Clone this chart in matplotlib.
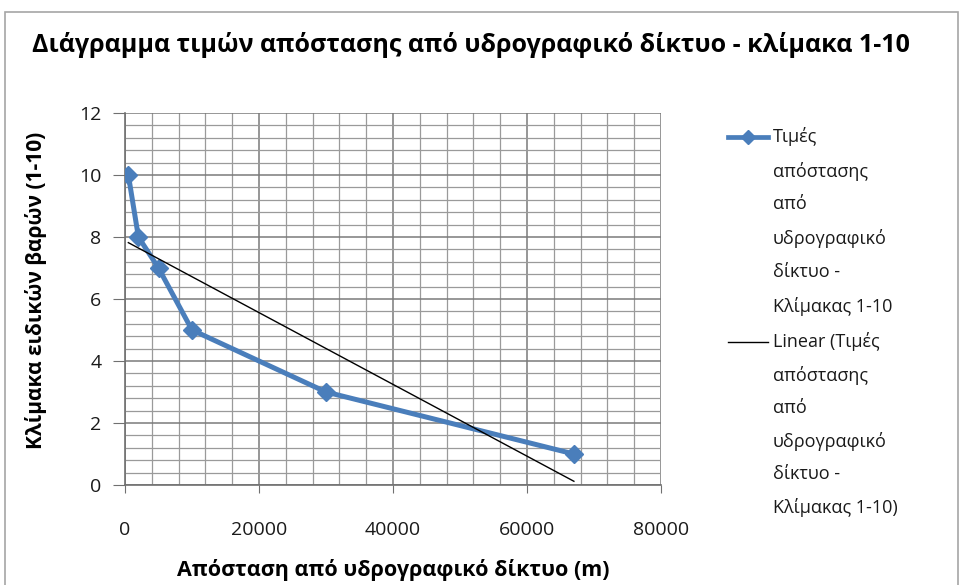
import numpy as np
import matplotlib
matplotlib.use("Agg")
import matplotlib.pyplot as plt
from matplotlib.lines import Line2D
from matplotlib.patches import Rectangle
from matplotlib.ticker import MultipleLocator

plt.rcParams['font.family'] = ['Open Sans', 'DejaVu Sans']

# Data
distance_m = [500, 2000, 5000, 10000, 30000, 67000]
scale_values = [10, 8, 7, 5, 3, 1]
x_ticks = [0, 20000, 40000, 60000, 80000]
y_ticks = [0, 2, 4, 6, 8, 10, 12]

title = "Διάγραμμα τιμών απόστασης από υδρογραφικό δίκτυο - κλίμακα 1-10"
x_label = "Απόσταση από υδρογραφικό δίκτυο (m)"
y_label = "Κλίμακα ειδικών βαρών (1-10)"
series_label = "Τιμές\nαπόστασης\nαπό\nυδρογραφικό\nδίκτυο -\nΚλίμακας 1-10"
trend_label = "Linear (Τιμές\nαπόστασης\nαπό\nυδρογραφικό\nδίκτυο -\nΚλίμακας 1-10)"

W, H = 961, 585
fig = plt.figure(figsize=(W / 100, H / 100), dpi=100)
fig.patch.set_facecolor('white')

# chart border
fig.add_artist(Rectangle((5 / W, -0.05), (958 - 5) / W, 1.05 - 12 / H,
                         transform=fig.transFigure, fill=False,
                         edgecolor='#a6a6a6', linewidth=1.2))

ax = fig.add_axes([125 / W, 1 - 485 / H, (661 - 125) / W, (485 - 113) / H])

blue = '#4a7ebb'
ax.plot(distance_m, scale_values, color=blue, linewidth=3.6, marker='D',
        markersize=9, markerfacecolor=blue, markeredgecolor=blue, zorder=4,
        solid_joinstyle='round')

# Linear trendline
xs = np.array(distance_m, dtype=float)
ys = np.array(scale_values, dtype=float)
slope, intercept = np.polyfit(xs, ys, 1)
tx = np.array([xs.min(), xs.max()])
ax.plot(tx, slope * tx + intercept, color='black', linewidth=1.0, zorder=5)

ax.set_xlim(0, 80000)
ax.set_ylim(0, 12)
ax.set_xticks(x_ticks)
ax.set_yticks(y_ticks)
ax.xaxis.set_minor_locator(MultipleLocator(4000))
ax.yaxis.set_minor_locator(MultipleLocator(0.4))
ax.grid(which='major', color='#7a7a7a', linewidth=1.1)
ax.grid(which='minor', color='#9a9a9a', linewidth=0.9)
ax.set_axisbelow(True)
for s in ['top', 'right']:
    ax.spines[s].set_visible(False)
for s in ['left', 'bottom']:
    ax.spines[s].set_color('#707070')
    ax.spines[s].set_linewidth(1.2)

ax.tick_params(axis='y', which='major', length=9, pad=8, color='#707070',
               labelsize=14, labelcolor='#1a1a1a')
ax.tick_params(axis='x', which='major', length=6, pad=20, color='#707070',
               labelsize=14, labelcolor='#1a1a1a')
ax.tick_params(which='minor', length=0)

fig.text(32 / W, 1 - 45 / H, title, ha='left', va='center',
         fontsize=18, fontweight='bold', color='black')
fig.text(393 / W, 1 - 570 / H, x_label, ha='center', va='center',
         fontsize=15.5, fontweight='bold', color='black')
fig.text(36 / W, 1 - 290 / H, y_label, ha='center', va='center',
         rotation=90, fontsize=15, fontweight='bold', color='black')

# Legend (manual, Excel-like)
fig.add_artist(Line2D([728 / W, 768 / W], [1 - 137 / H, 1 - 137 / H],
                      transform=fig.transFigure, color=blue, linewidth=3.4))
fig.add_artist(Line2D([748 / W], [1 - 137 / H], transform=fig.transFigure,
                      color=blue, marker='D', markersize=7, linestyle='none'))
fig.add_artist(Line2D([728 / W, 768 / W], [1 - 342 / H, 1 - 342 / H],
                      transform=fig.transFigure, color='black', linewidth=1.0))
fig.text(773 / W, 1 - 127 / H, series_label, ha='left', va='top',
         fontsize=13, linespacing=2.05, color='#1a1a1a')
fig.text(773 / W, 1 - 332 / H, trend_label, ha='left', va='top',
         fontsize=13, linespacing=2.0, color='#1a1a1a')

fig.savefig('out.png', dpi=100, facecolor='white')
